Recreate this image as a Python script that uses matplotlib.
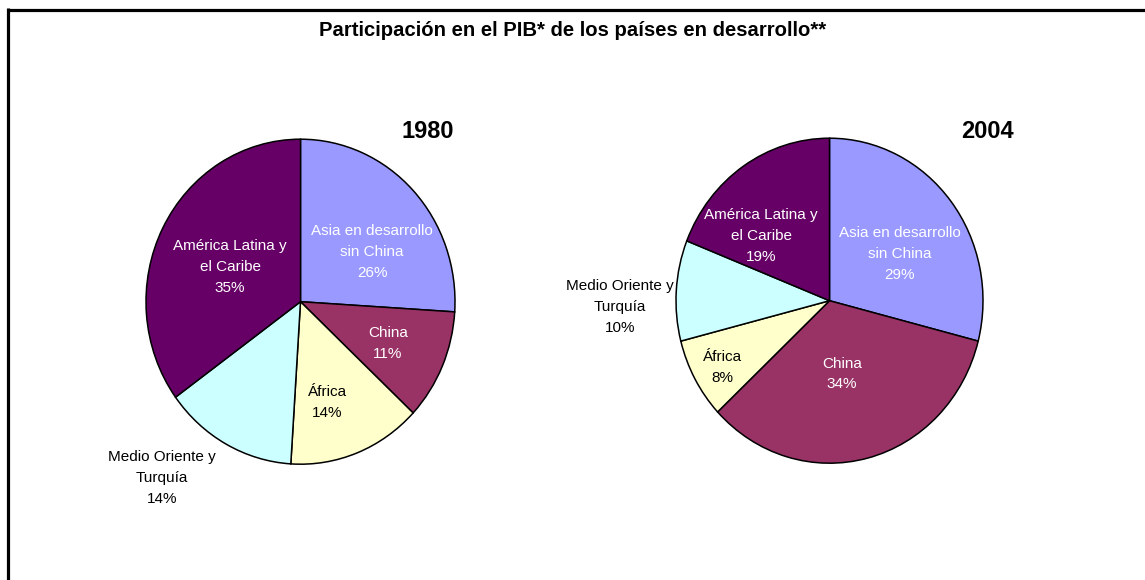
import matplotlib
matplotlib.use("Agg")
import matplotlib.pyplot as plt
from matplotlib.lines import Line2D

plt.rcParams['font.family'] = ['Liberation Sans', 'DejaVu Sans']

# ---- data ----
title = "Participación en el PIB* de los países en desarrollo**"
categories = ["Asia en desarrollo\nsin China", "China", "África",
              "Medio Oriente y\nTurquía", "América Latina y\nel Caribe"]
years = ["1980", "2004"]
shares_1980 = [26, 11, 14, 14, 35]
shares_2004 = [29, 34, 8, 10, 19]

# ---- style / layout ----
colors = ["#9999FF", "#993366", "#FFFFCC", "#CCFFFF", "#660066"]
text_colors = ["white", "white", "black", "black", "white"]
# label positions in pie-normalized coords (x, y), radius = 1
label_pos_1980 = [(0.463, 0.306), (0.566, -0.257), (0.172, -0.62),
                  (-0.896, -1.085), (-0.456, 0.214)]
label_pos_2004 = [(0.459, 0.287), (0.081, -0.451), (-0.70, -0.411),
                  (-1.365, -0.039), (-0.446, 0.398)]

W, H = 1145, 580
fig = plt.figure(figsize=(W / 100, H / 100), dpi=100)
fig.patch.set_facecolor("white")

# pie boxes in pixels: (left, top, width, height)
boxes = [(146, 139.2, 309, 325), (676, 138.2, 307, 325)]
year_pos = [(428, 132), (987, 132)]

for box, shares, lpos, yr, ypos in zip(boxes, [shares_1980, shares_2004],
                                       [label_pos_1980, label_pos_2004],
                                       years, year_pos):
    l, t, w, h = box
    ax = fig.add_axes([l / W, 1 - (t + h) / H, w / W, h / H])
    ax.pie(shares, colors=colors, startangle=90, counterclock=False,
           wedgeprops=dict(edgecolor="black", linewidth=1.1))
    ax.set_aspect("auto")
    ax.set_xlim(-1, 1)
    ax.set_ylim(-1, 1)
    ax.axis("off")
    for cat, val, (x, y), tc in zip(categories, shares, lpos, text_colors):
        ax.text(x, y, f"{cat}\n{val}%", ha="center", va="center",
                color=tc, fontsize=11, linespacing=1.62, clip_on=False)
    fig.text(ypos[0] / W, 1 - ypos[1] / H, yr, ha="center", va="center",
             fontsize=17, fontweight="bold")

fig.text(573 / W, 1 - 31 / H, title, ha="center", va="center",
         fontsize=14.6, fontweight="bold")

# frame (top and left edges visible)
fig.add_artist(Line2D([7.5 / W, 1.0], [1 - 9.5 / H, 1 - 9.5 / H],
                      transform=fig.transFigure, color="black", linewidth=2.3,
                      solid_capstyle="butt"))
fig.add_artist(Line2D([7.5 / W, 7.5 / W], [0.0, 1 - 8 / H],
                      transform=fig.transFigure, color="black", linewidth=2.3,
                      solid_capstyle="butt"))

fig.savefig("out.png", dpi=100, facecolor="white")
